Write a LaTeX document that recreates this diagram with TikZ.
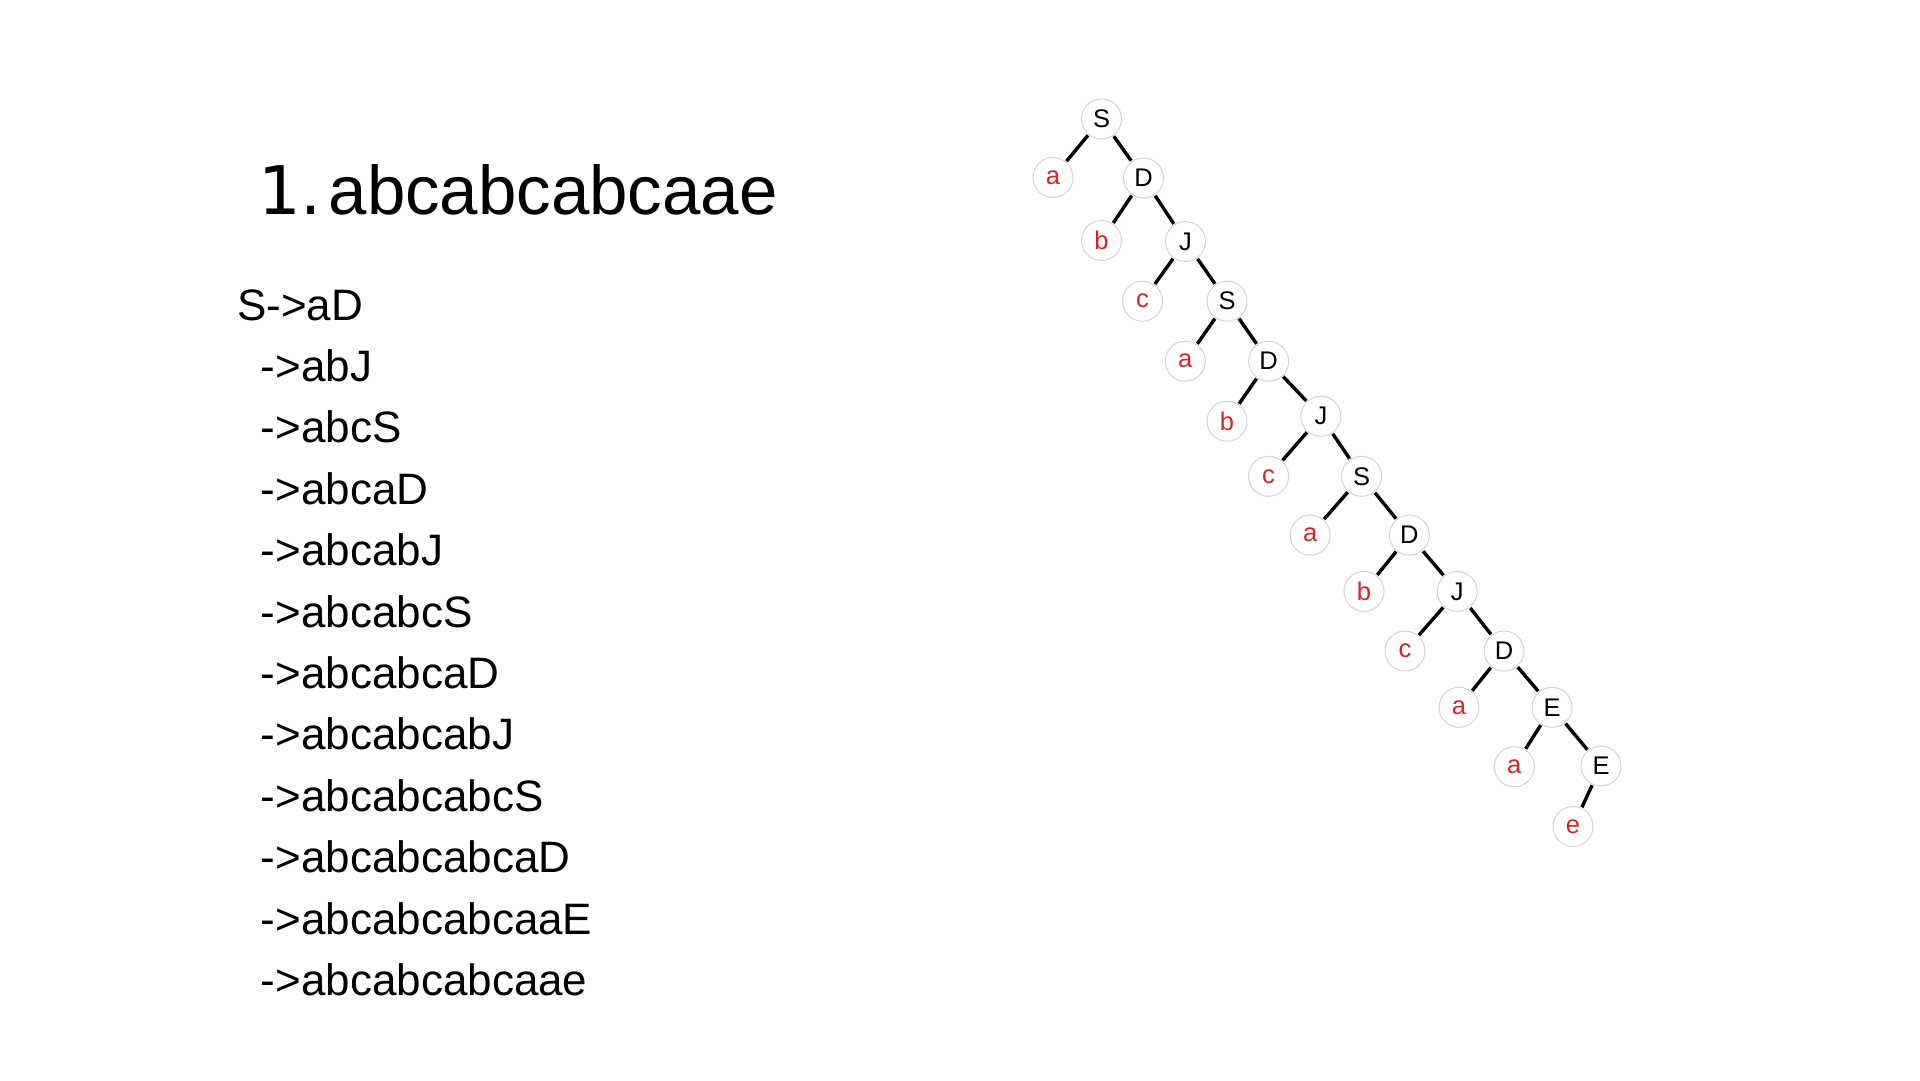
\documentclass[tikz,border=0pt]{standalone}
\usepackage{fontspec}
\setmainfont{Liberation Sans}
\newfontfamily\numfont{DejaVu Sans}
\definecolor{leafred}{RGB}{214,36,44}
\definecolor{ringgray}{RGB}{208,212,216}
\tikzset{
  tn/.style={circle,draw=ringgray,line width=1pt,fill=white,minimum size=40pt,inner sep=0pt,outer sep=1.2pt,font=\fontsize{25.5}{25.5}\selectfont},
  inner/.style={tn,text=black},
  leaf/.style={tn,text=leafred},
  edge/.style={line width=3.4pt,black},
  deriv/.style={anchor=base west,inner sep=0pt,font=\fontsize{44}{44}\selectfont},
  titletxt/.style={anchor=base west,inner sep=0pt,font=\fontsize{69}{69}\selectfont}
}
\begin{document}
\begin{tikzpicture}[x=1pt,y=-1pt]
\useasboundingbox (0,0) rectangle (1920,1080);
% title
\node[titletxt,font=\numfont\fontsize{67}{67}\selectfont] (num) at (258,214) {1.};
\node[titletxt] (title) at (328.5,214) {abcabcabcaae};
% derivation
\node[deriv] (d0) at (237,320) {S->aD};
\node[deriv] (d1) at (260.7,381.4) {->abJ};
\node[deriv] (d2) at (260.7,442.8) {->abcS};
\node[deriv] (d3) at (260.7,504.2) {->abcaD};
\node[deriv] (d4) at (260.7,565.6) {->abcabJ};
\node[deriv] (d5) at (260.7,627.0) {->abcabcS};
\node[deriv] (d6) at (260.7,688.4) {->abcabcaD};
\node[deriv] (d7) at (260.7,749.8) {->abcabcabJ};
\node[deriv] (d8) at (260.7,811.2) {->abcabcabcS};
\node[deriv] (d9) at (260.7,872.6) {->abcabcabcaD};
\node[deriv] (d10) at (260.7,934.0) {->abcabcabcaaE};
\node[deriv] (d11) at (260.7,995.4) {->abcabcabcaae};
% tree
\node[inner] (S1) at (1101.5,119) {S};
\node[leaf]  (a1) at (1053,177.5) {a};
\node[inner] (D1) at (1143.5,178) {D};
\node[leaf]  (b1) at (1101.5,240.5) {b};
\node[inner] (J1) at (1185.5,241.5) {J};
\node[leaf]  (c1) at (1142.5,301.2) {c};
\node[inner] (S2) at (1227,301.2) {S};
\node[leaf]  (a2) at (1185.3,361.2) {a};
\node[inner] (D2) at (1268.6,361.2) {D};
\node[leaf]  (b2) at (1227,421.2) {b};
\node[inner] (J2) at (1320.9,416.3) {J};
\node[leaf]  (c2) at (1268.6,476.3) {c};
\node[inner] (S3) at (1361.6,476.3) {S};
\node[leaf]  (a3) at (1310.2,535.1) {a};
\node[inner] (D3) at (1409.4,535.1) {D};
\node[leaf]  (b3) at (1364,591.4) {b};
\node[inner] (J3) at (1457.2,591.4) {J};
\node[leaf]  (c3) at (1405,651) {c};
\node[inner] (D4) at (1504,651) {D};
\node[leaf]  (a4) at (1459,707.3) {a};
\node[inner] (E1) at (1552,707.3) {E};
\node[leaf]  (a5) at (1514.3,766.7) {a};
\node[inner] (E2) at (1601,766) {E};
\node[leaf]  (e1) at (1573,826.5) {e};
\foreach \p/\c in {S1/a1,S1/D1,D1/b1,D1/J1,J1/c1,J1/S2,S2/a2,S2/D2,D2/b2,D2/J2,J2/c2,J2/S3,S3/a3,S3/D3,D3/b3,D3/J3,J3/c3,J3/D4,D4/a4,D4/E1,E1/a5,E1/E2,E2/e1}
  \draw[edge] (\p) -- (\c);
\end{tikzpicture}
\end{document}
